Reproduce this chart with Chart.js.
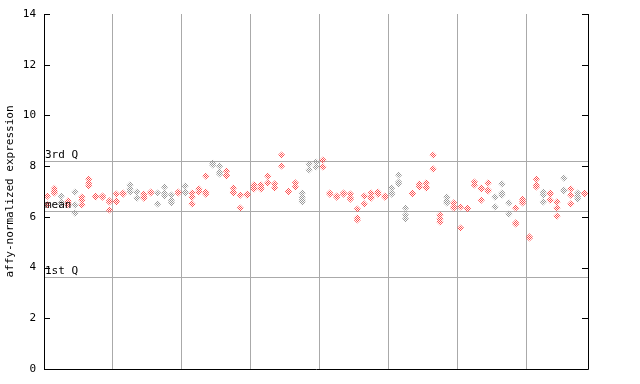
<!DOCTYPE html>
<html>
<head>
<meta charset="utf-8">
<script src="https://cdn.jsdelivr.net/npm/chart.js@4"></script>
<style>
  html, body { margin: 0; padding: 0; background: #fff; }
  #wrap { width: 640px; height: 384px; }
</style>
</head>
<body>
<div id="wrap"><canvas id="myChart" width="640" height="384"></canvas></div>
<script>
// replicate values per sample (79 samples, left to right)
const expr = [
  [6.82, 6.47], [7.12, 7.02, 6.94], [6.82, 6.59, 6.51], [6.63, 6.55, 6.47], [6.98, 6.47, 6.15],
  [6.78, 6.66, 6.47], [7.49, 7.34, 7.22], [6.82, 6.78], [6.82, 6.78], [6.63, 6.59, 6.27],
  [6.90, 6.63, 6.59], [6.94, 6.90], [7.26, 7.10, 6.98], [6.98, 6.74], [6.90, 6.78, 6.74],
  [6.98, 6.94], [6.94, 6.51], [7.18, 6.94, 6.82], [6.86, 6.66, 6.55], [6.98, 6.94],
  [7.22, 6.98, 6.94], [6.94, 6.78, 6.51], [7.10, 6.98], [7.61, 6.98, 6.90], [8.12, 8.05],
  [8.01, 7.77, 7.69], [7.81, 7.65, 7.61], [7.14, 6.98, 6.94], [6.86, 6.35], [6.90, 6.86],
  [7.26, 7.14, 7.10], [7.26, 7.14, 7.10], [7.61, 7.34], [7.30, 7.14], [8.44, 8.01],
  [7.02, 6.98], [7.34, 7.18], [6.94, 6.78, 6.66, 6.59], [8.08, 7.85], [8.16, 7.97],
  [8.24, 7.97], [6.94, 6.90], [6.82, 6.78], [6.94, 6.90], [6.90, 6.74, 6.70],
  [6.31, 5.96, 5.88], [6.82, 6.51], [6.94, 6.78, 6.74], [6.98, 6.90], [6.82, 6.78],
  [7.14, 6.94, 6.90], [7.65, 7.37, 7.30], [6.35, 6.07, 5.92], [6.94, 6.90], [7.30, 7.18],
  [7.34, 7.18, 7.14], [8.44, 7.89], [6.07, 5.92, 5.80], [6.78, 6.63, 6.55], [6.55, 6.39, 6.35],
  [6.39, 5.56], [6.35, 6.31], [7.37, 7.26], [7.14, 7.10, 6.66], [7.34, 7.06, 7.02],
  [6.78, 6.39], [7.30, 6.94, 6.86], [6.55, 6.11], [6.35, 5.76, 5.72], [6.70, 6.59, 6.55],
  [5.21, 5.17], [7.49, 7.26, 7.18], [6.98, 6.86, 6.59], [6.94, 6.90, 6.66], [6.59, 6.35, 6.03],
  [7.53, 7.06, 7.02], [7.10, 6.86, 6.51], [6.94, 6.82, 6.70], [6.94, 6.90]
];
// r = red sample, g = gray sample (10 per block)
const groups = [
  'rrgrgrrrrr', 'rrggrrgggr', 'grrrggrrrr', 'rrrrrrrggg',
  'rrrrrrrrrr', 'gggrrrrrgr', 'rrrrrgggrr', 'rrgrrgrgr'
].join('');
const quartiles = [
  { label: '3rd Q', value: 8.21 },
  { label: 'mean', value: 6.23 },
  { label: '1st Q', value: 3.64 }
];
const yTicks = [0, 2, 4, 6, 8, 10, 12, 14];
const groupBreaks = [9.5, 19.5, 29.5, 39.5, 49.5, 59.5, 69.5];

function hatch(color) {
  const c = document.createElement('canvas');
  c.width = 2; c.height = 2;
  const g = c.getContext('2d');
  g.fillStyle = color;
  g.fillRect(0, 0, 1, 1);
  g.fillRect(1, 1, 1, 1);
  return g.createPattern(c, 'repeat');
}

const redPts = [], grayPts = [];
expr.forEach((vals, i) => {
  vals.forEach(v => (groups[i] === 'r' ? redPts : grayPts).push({ x: i, y: v }));
});

const mono = 'DejaVu Sans Mono';

const extras = {
  id: 'extras',
  beforeDatasetsDraw(chart) {
    const { ctx, chartArea: a, scales: { y } } = chart;
    ctx.save();
    ctx.strokeStyle = '#aaaaaa';
    ctx.lineWidth = 1;
    quartiles.forEach(q => {
      const py = Math.round(y.getPixelForValue(q.value)) + 0.5;
      ctx.beginPath();
      ctx.moveTo(a.left, py);
      ctx.lineTo(a.right, py);
      ctx.stroke();
    });
    ctx.restore();
  },
  afterDraw(chart) {
    const { ctx, chartArea: a, scales: { y } } = chart;
    ctx.save();
    ctx.strokeStyle = '#000';
    ctx.lineWidth = 1;
    ctx.beginPath();
    ctx.moveTo(a.left + 0.5, a.top);
    ctx.lineTo(a.left + 0.5, a.bottom + 0.5);
    ctx.lineTo(a.right + 0.5, a.bottom + 0.5);
    ctx.lineTo(a.right + 0.5, a.top);
    yTicks.forEach(t => {
      const py = Math.round(y.getPixelForValue(t)) + 0.5;
      ctx.moveTo(a.left, py); ctx.lineTo(a.left + 6, py);
      ctx.moveTo(a.right, py); ctx.lineTo(a.right - 6, py);
    });
    ctx.stroke();
    ctx.fillStyle = '#000';
    ctx.font = '11px "' + mono + '"';
    ctx.textBaseline = 'bottom';
    quartiles.forEach(q => {
      const py = Math.round(y.getPixelForValue(q.value));
      ctx.fillText(q.label, a.left + 1, py);
    });
    ctx.restore();
  }
};

new Chart(document.getElementById('myChart'), {
  type: 'scatter',
  data: {
    datasets: [{
      label: 'gray',
      data: grayPts,
      pointStyle: 'rectRot',
      pointRadius: 3.6,
      pointBorderWidth: 0,
      pointBackgroundColor: hatch('#999999'),
      pointBorderColor: 'rgba(0,0,0,0)'
    }, {
      label: 'red',
      data: redPts,
      pointStyle: 'rectRot',
      pointRadius: 3.6,
      pointBorderWidth: 0,
      pointBackgroundColor: hatch('#ff5050'),
      pointBorderColor: 'rgba(0,0,0,0)'
    }]
  },
  options: {
    responsive: false,
    animation: false,
    layout: { padding: { left: 0, top: 14, right: 52, bottom: 15 } },
    plugins: { legend: { display: false }, tooltip: { enabled: false } },
    scales: {
      x: {
        type: 'linear',
        min: -0.5,
        max: 78.5,
        afterBuildTicks: s => { s.ticks = groupBreaks.map(v => ({ value: v })); },
        afterFit: s => { s.height = 0; },
        ticks: { display: false },
        grid: { color: '#aaaaaa', drawTicks: false },
        border: { display: false }
      },
      y: {
        min: 0,
        max: 14,
        afterBuildTicks: s => { s.ticks = yTicks.map(v => ({ value: v })); },
        afterFit: s => { s.width = 44; },
        ticks: { color: '#000', font: { family: mono, size: 11 }, padding: 0 },
        grid: { display: false },
        border: { display: false },
        title: {
          display: true,
          text: 'affy-normalized expression',
          color: '#000',
          font: { family: mono, size: 11 },
          padding: { top: 4, bottom: 0 }
        }
      }
    }
  },
  plugins: [extras]
});
</script>
</body>
</html>
